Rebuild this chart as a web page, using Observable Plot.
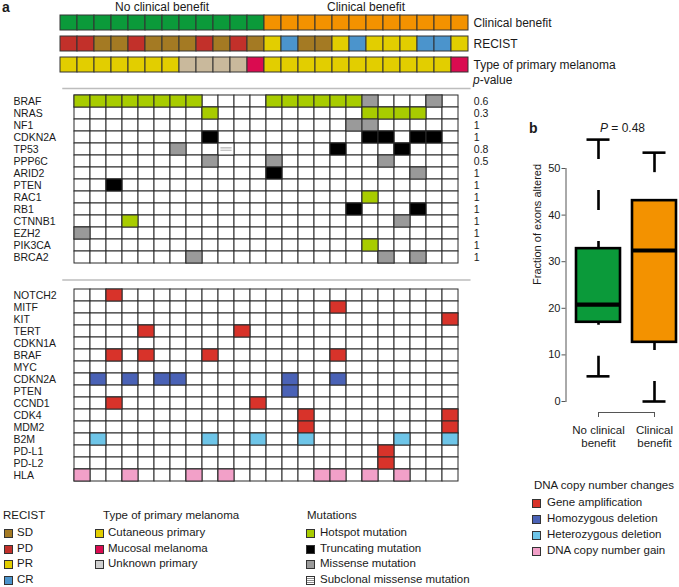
<!DOCTYPE html>
<html><head><meta charset="utf-8">
<script src="https://cdn.jsdelivr.net/npm/d3@7"></script>
<script src="https://cdn.jsdelivr.net/npm/@observablehq/plot@0.6"></script>
<style>
html,body{margin:0;padding:0;background:#fff;}
#root{position:relative;width:679px;height:587px;overflow:hidden;font-family:"Liberation Sans",Arial,Helvetica,sans-serif;color:#1a1a1a;}
#root svg{position:absolute;overflow:visible;}
.t{position:absolute;line-height:1;white-space:nowrap;}
.sw{position:absolute;width:9px;height:9px;box-sizing:border-box;border:1px solid #333;}
</style></head><body><div id="root"></div>
<script>
// ---------------- data ----------------
const patients = ["S1","S2","S3","S4","S5","S6","S7","S8","S9","S10","S11","S12","S13","S14","S15","S16","S17","S18","S19","S20","S21","S22","S23","S24"];
const clinicalBenefit = ["No clinical benefit","No clinical benefit","No clinical benefit","No clinical benefit","No clinical benefit","No clinical benefit","No clinical benefit","No clinical benefit","No clinical benefit","No clinical benefit","No clinical benefit","No clinical benefit","Clinical benefit","Clinical benefit","Clinical benefit","Clinical benefit","Clinical benefit","Clinical benefit","Clinical benefit","Clinical benefit","Clinical benefit","Clinical benefit","Clinical benefit","Clinical benefit"];
const recist = ["PD","PD","SD","SD","PD","SD","SD","SD","PD","SD","PD","SD","PR","CR","SD","SD","PR","CR","PR","PR","PR","CR","CR","PR"];
const primaryType = ["Cutaneous primary","Cutaneous primary","Cutaneous primary","Cutaneous primary","Cutaneous primary","Cutaneous primary","Cutaneous primary","Unknown primary","Unknown primary","Unknown primary","Unknown primary","Mucosal melanoma","Cutaneous primary","Cutaneous primary","Cutaneous primary","Cutaneous primary","Cutaneous primary","Cutaneous primary","Cutaneous primary","Cutaneous primary","Cutaneous primary","Cutaneous primary","Cutaneous primary","Mucosal melanoma"];
const annotRows = ["Clinical benefit","RECIST","Type of primary melanoma"];

const mutGenes = ["BRAF","NRAS","NF1","CDKN2A","TP53","PPP6C","ARID2","PTEN","RAC1","RB1","CTNNB1","EZH2","PIK3CA","BRCA2"];
const mutPvalues = ["0.6","0.3","1","1","0.8","0.5","1","1","1","1","1","1","1","1"];
// H hotspot, T truncating, M missense, S subclonal missense, . none
const mutCalls = [
  "HHHHHHHH....HHHHHHM...M.",
  "........H.........HHHH..",
  ".................MM.....",
  "........T.........TT.TT.",
  "......M..S......T...T...",
  "........M...M......M....",
  "............T........M..",
  "..T.....................",
  "..................H.....",
  ".................T...T..",
  "...H................M...",
  "M.......................",
  "..................H.....",
  ".......M...........M.M.."
];
const cnvGenes = ["NOTCH2","MITF","KIT","TERT","CDKN1A","BRAF","MYC","CDKN2A","PTEN","CCND1","CDK4","MDM2","B2M","PD-L1","PD-L2","HLA"];
// A amplification, D homozygous deletion, L heterozygous deletion, G copy number gain
const cnvCalls = [
  "..A.....................",
  "................A.......",
  ".......................A",
  "....A.....A.............",
  "........................",
  "..A.A...A.......A.......",
  "........................",
  ".D.D.DD......D..D.......",
  ".............D..........",
  "..A........A............",
  "..............A........A",
  "..............A........A",
  ".L......L..L..L.....L..L",
  "...................A....",
  "...................A....",
  "G..G...G.G.....GG.G.G..."
];

const boxGroups = ["No clinical benefit","Clinical benefit"];
const boxLabels = ["No clinical\nbenefit","Clinical\nbenefit"];
const boxLow = [5.4, 0.0];
const boxQ1 = [17.0, 12.7];
const boxMedian = [20.8, 32.4];
const boxQ3 = [32.8, 43.1];
const boxHigh = [56.2, 53.4];
const boxTicks = [0, 10, 20, 30, 40, 50];
const boxPvalue = "0.48";

// legends
const recistLegend = ["SD","PD","PR","CR"];
const typeLegend = ["Cutaneous primary","Mucosal melanoma","Unknown primary"];
const mutLegend = ["Hotspot mutation","Truncating mutation","Missense mutation","Subclonal missense mutation"];
const cnvLegend = ["Gene amplification","Homozygous deletion","Heterozygous deletion","DNA copy number gain"];

// colours
const benefitColors = ["#0b9a3a","#f39200"];
const recistColors = ["#a47a23","#c2302a","#e2ce00","#4b94cc"];
const typeColors = ["#e2ce00","#da0b50","#c9b99c"];
const typeLegendColors = ["#e2ce00","#da0b50","#cfcfcf"];
const mutColors = ["#a8cc00","#000000","#9a9a9a","url(#subclonal)"];
const cnvColors = ["#d8332a","#4a62b6","#6ec5e8","#f2a0c8"];

const mutCodes = {H:"Hotspot mutation",T:"Truncating mutation",M:"Missense mutation",S:"Subclonal missense mutation"};
const cnvCodes = {A:"Gene amplification",D:"Homozygous deletion",L:"Heterozygous deletion",G:"DNA copy number gain"};

// ---------------- helpers ----------------
const root = document.getElementById("root");
const FONT = '"Liberation Sans", Arial, Helvetica, sans-serif';
function place(svg, left, top){ svg.style.left = left + "px"; svg.style.top = top + "px"; root.appendChild(svg); return svg; }
function txt(html, x, cy, size, {anchor = "start", weight = 400} = {}){
  const d = document.createElement("div"); d.className = "t"; d.innerHTML = html;
  d.style.fontSize = size + "px"; d.style.fontWeight = weight;
  d.style.left = x + "px"; d.style.top = (cy - size / 2) + "px";
  d.style.transform = `translateX(${anchor === "middle" ? "-50%" : anchor === "end" ? "-100%" : "0"})`;
  root.appendChild(d); return d;
}
function legend(title, names, colors, titleX, swX, textX, titleY, itemYs, size = 11.5){
  txt(title, titleX, titleY, size);
  names.forEach((n, i) => {
    const s = document.createElement("div"); s.className = "sw";
    if (colors[i].startsWith("url")) {
      s.style.background = "repeating-linear-gradient(to bottom,#fff 0px,#fff 1px,#8a8a8a 1px,#8a8a8a 2px)";
    } else s.style.background = colors[i];
    s.style.left = swX + "px"; s.style.top = (itemYs[i] - 4.5) + "px";
    root.appendChild(s);
    txt(n, textX, itemYs[i], size);
  });
}
const baseStyle = {background: "transparent", fontFamily: FONT, color: "#1a1a1a", overflow: "visible"};

// ---------------- annotation bars ----------------
const annotData = patients.flatMap((p, i) => [
  {patient: p, row: annotRows[0], value: clinicalBenefit[i]},
  {patient: p, row: annotRows[1], value: recist[i]},
  {patient: p, row: annotRows[2], value: primaryType[i]}
]);
const annotPlot = Plot.plot({
  width: 679, height: 90, marginLeft: 60, marginRight: 211, marginTop: 14.7, marginBottom: 17.2,
  style: {...baseStyle, fontSize: "12px"},
  x: {domain: patients, padding: 0, axis: null},
  y: {domain: annotRows, paddingInner: 0.27, paddingOuter: 0, label: null},
  color: {domain: [...boxGroups, ...recistLegend, ...typeLegend], range: [...benefitColors, ...recistColors, ...typeColors]},
  marks: [
    Plot.cell(annotData, {x: "patient", y: "row", fill: "value", stroke: "#333", strokeWidth: 1}),
    Plot.axisY({anchor: "right", tickSize: 0, tickPadding: 5, label: null, fontSize: 12})
  ]
});
place(annotPlot, 0, 0);

// ---------------- mutation grid ----------------
const mutData = mutGenes.flatMap((g, r) => patients.map((p, c) => ({gene: g, patient: p, call: mutCalls[r][c]})));
const mutPlot = Plot.plot({
  width: 679, height: 275, marginLeft: 62.5, marginRight: 209.7, marginTop: 90, marginBottom: 7,
  style: {...baseStyle, fontSize: "10.5px"},
  x: {domain: patients, padding: 0, axis: null},
  y: {domain: mutGenes, padding: 0, axis: null},
  color: {domain: mutLegend, range: mutColors},
  marks: [
    Plot.frame({anchor: "top", stroke: "#bdbdbd", strokeWidth: 1.5, dy: -2}),
    Plot.cell(mutData, {x: "patient", y: "gene", fill: "white", stroke: "#2b2b2b", strokeWidth: 1}),
    Plot.cell(mutData.filter(d => d.call !== "."), {x: "patient", y: "gene", fill: d => mutCodes[d.call], stroke: "#2b2b2b", strokeWidth: 1}),
    Plot.text(mutGenes, {y: d => d, text: d => d, frameAnchor: "left", textAnchor: "start", dx: -49.5, fill: "#1a1a1a"}),
    Plot.text(mutGenes, {y: d => d, text: (d, i) => mutPvalues[i], frameAnchor: "right", textAnchor: "start", dx: 4, fill: "#1a1a1a"})
  ]
});
const svgNS = "http://www.w3.org/2000/svg";
const defs = document.createElementNS(svgNS, "defs");
defs.innerHTML = '<pattern id="subclonal" patternUnits="objectBoundingBox" patternContentUnits="objectBoundingBox" width="1" height="1">' +
  '<rect width="1" height="1" fill="#ffffff"/>' +
  '<rect x="0.15" y="0.34" width="0.7" height="0.05" fill="#a0a0a0"/>' +
  '<rect x="0.15" y="0.47" width="0.7" height="0.05" fill="#a0a0a0"/>' +
  '<rect x="0.15" y="0.60" width="0.7" height="0.05" fill="#a0a0a0"/></pattern>';
mutPlot.insertBefore(defs, mutPlot.firstChild);
place(mutPlot, 0, 0);

// ---------------- copy number grid ----------------
const cnvData = cnvGenes.flatMap((g, r) => patients.map((p, c) => ({gene: g, patient: p, call: cnvCalls[r][c]})));
const cnvPlot = Plot.plot({
  width: 679, height: 220, marginLeft: 62.5, marginRight: 209.7, marginTop: 7.5, marginBottom: 8,
  style: {...baseStyle, fontSize: "10.5px"},
  x: {domain: patients, padding: 0, axis: null},
  y: {domain: cnvGenes, padding: 0, axis: null},
  color: {domain: cnvLegend, range: cnvColors},
  marks: [
    Plot.frame({anchor: "top", stroke: "#bdbdbd", strokeWidth: 1.5, dy: -3}),
    Plot.cell(cnvData, {x: "patient", y: "gene", fill: "white", stroke: "#2b2b2b", strokeWidth: 1}),
    Plot.cell(cnvData.filter(d => d.call !== "."), {x: "patient", y: "gene", fill: d => cnvCodes[d.call], stroke: "#2b2b2b", strokeWidth: 1}),
    Plot.text(cnvGenes, {y: d => d, text: d => d, frameAnchor: "left", textAnchor: "start", dx: -49.5, fill: "#1a1a1a"})
  ]
});
place(cnvPlot, 0, 275);

// ---------------- box plot ----------------
const boxData = boxGroups.map((g, i) => ({group: g, low: boxLow[i], q1: boxQ1[i], med: boxMedian[i], q3: boxQ3[i], high: boxHigh[i]}));
const boxPlot = Plot.plot({
  width: 199, height: 360, marginLeft: 95.5, marginRight: 1.5, marginTop: 68, marginBottom: 59,
  style: {...baseStyle, fontSize: "11px"},
  x: {domain: boxGroups, paddingInner: 0.21, paddingOuter: 0, label: null},
  y: {domain: [0, 50], label: null},
  color: {domain: boxGroups, range: benefitColors},
  marks: [
    Plot.frame({anchor: "left", dx: -10, stroke: "#555", strokeWidth: 1}),
    Plot.axisY({ticks: boxTicks, anchor: "left", dx: -10, tickSize: 4, tickPadding: 1.5, label: null, stroke: "#555", fontSize: 11}),
    Plot.line(boxGroups, {x: d => d, y: () => 0, dy: 11, stroke: "#555", strokeWidth: 1}),
    Plot.axisX({anchor: "bottom", dy: 11, tickSize: 5, tickPadding: 6.5, label: null, stroke: "#555", fontSize: 11.5, lineHeight: 1.17,
      tickFormat: d => boxLabels[boxGroups.indexOf(d)]}),
    Plot.ruleX(boxData, {x: "group", y1: "high", y2: "q3", stroke: "#000", strokeWidth: 2.6, strokeDasharray: "20,31"}),
    Plot.ruleX(boxData, {x: "group", y1: "low", y2: "q1", stroke: "#000", strokeWidth: 2.6, strokeDasharray: "20,31"}),
    Plot.tickY(boxData, {x: "group", y: "high", stroke: "#000", strokeWidth: 2.6, insetLeft: 10.5, insetRight: 10.5}),
    Plot.tickY(boxData, {x: "group", y: "low", stroke: "#000", strokeWidth: 2.6, insetLeft: 10.5, insetRight: 10.5}),
    Plot.barY(boxData, {x: "group", y1: "q1", y2: "q3", fill: "group", stroke: "#000", strokeWidth: 2.6}),
    Plot.tickY(boxData, {x: "group", y: "med", stroke: "#000", strokeWidth: 4.2}),
    Plot.text(["Fraction of exons altered"], {text: d => d, frameAnchor: "left", rotate: -90, dx: -39, fontSize: 11, fill: "#1a1a1a"})
  ]
});
place(boxPlot, 480, 100);

// ---------------- free text ----------------
txt("a", 2, 7, 14, {weight: 700});
txt("No clinical benefit", 162, 7, 12, {anchor: "middle"});
txt("Clinical benefit", 366, 7, 12, {anchor: "middle"});
txt("<i>p</i>-value", 473, 80, 12);
txt("b", 529, 128, 14, {weight: 700});
txt(`<i>P</i> = ${boxPvalue}`, 622.5, 128, 12, {anchor: "middle"});

// ---------------- legends ----------------
legend("RECIST", recistLegend, recistColors, 3, 4, 17, 516, [533, 549, 564, 580]);
legend("Type of primary melanoma", typeLegend, typeLegendColors, 103, 95, 108, 516, [533, 549, 564]);
legend("Mutations", mutLegend, mutColors, 307, 306, 320, 516, [533, 549, 564, 580]);
legend("DNA copy number changes", cnvLegend, cnvColors, 534, 532, 547, 486, [503, 519, 535, 551]);
</script></body></html>
